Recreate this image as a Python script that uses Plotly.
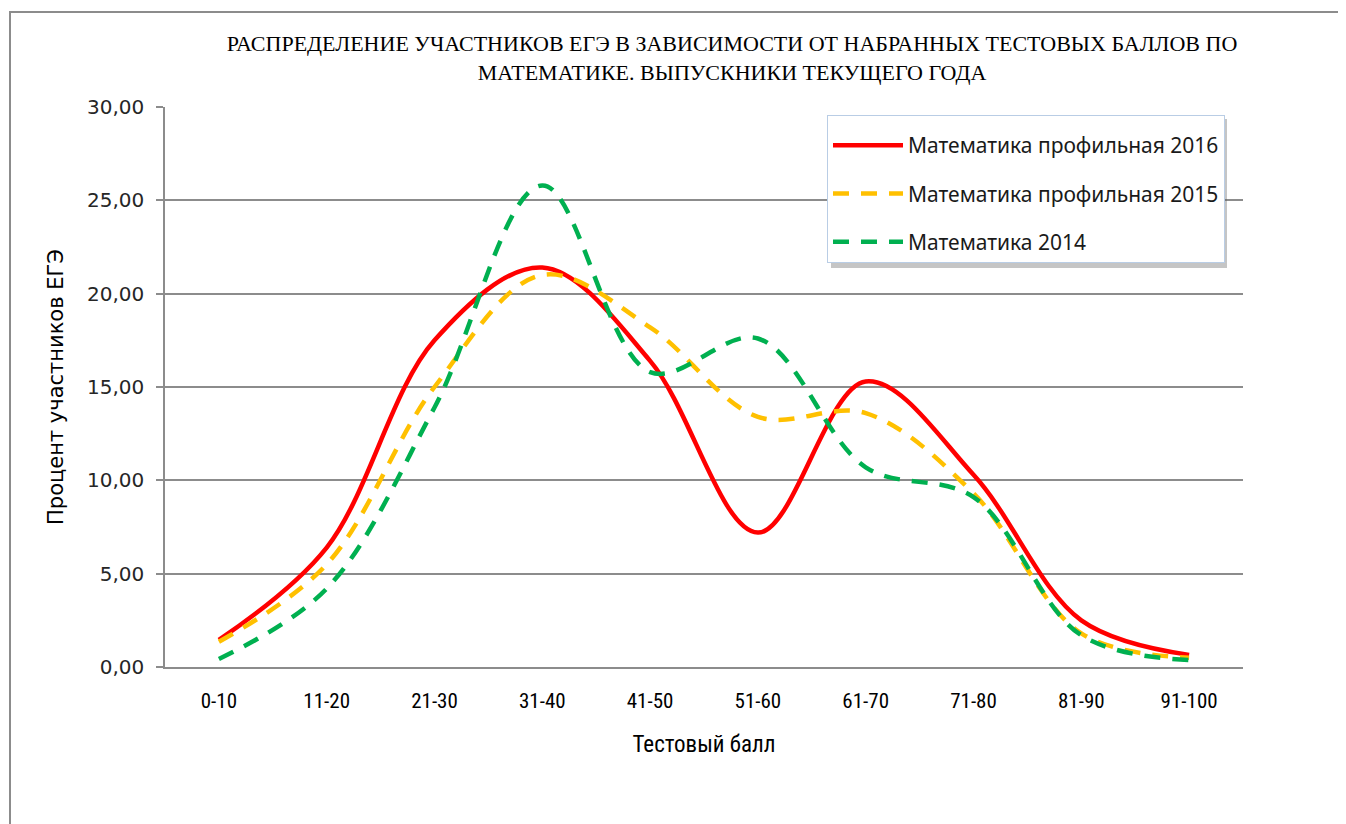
import plotly.graph_objects as go

categories = ["0-10", "11-20", "21-30", "31-40", "41-50", "51-60", "61-70", "71-80", "81-90", "91-100"]
math_prof_2016 = [1.45, 6.4, 17.5, 21.4, 16.4, 7.2, 15.3, 10.3, 2.5, 0.65]
math_prof_2015 = [1.35, 5.5, 15.0, 21.0, 18.2, 13.4, 13.6, 9.3, 1.8, 0.5]
math_2014 = [0.43, 4.2, 13.9, 25.8, 15.8, 17.6, 10.7, 9.1, 1.7, 0.37]
series_names = ["Математика профильная 2016", "Математика профильная 2015", "Математика 2014"]
y_tick_vals = [0, 5, 10, 15, 20, 25, 30]
y_tick_text = ["0,00", "5,00", "10,00", "15,00", "20,00", "25,00", "30,00"]

OFF = 8  # page body margin
W, H = 1346 - OFF, 824 - OFF
L, T = 165 - OFF, 107 - OFF
pw, ph = 1078, 560
R, B = W - L - pw, H - T - ph


def px_to_paper_x(px):
    return (px - OFF - L) / pw


def px_to_paper_y(py):
    return (H - B - (py - OFF)) / ph


fig = go.Figure()
fig.add_trace(go.Scatter(x=categories, y=math_prof_2016, name=series_names[0], mode="lines",
                         line=dict(color="#FF0000", width=4.5, shape="spline", smoothing=1.0),
                         legendgroup="a"))
fig.add_trace(go.Scatter(x=categories, y=math_prof_2015, name=series_names[1], mode="lines",
                         line=dict(color="#FFC000", width=4.5, shape="spline", smoothing=1.0, dash="16px,12px"),
                         legendgroup="b"))
fig.add_trace(go.Scatter(x=categories, y=math_2014, name=series_names[2], mode="lines",
                         line=dict(color="#00B050", width=4.5, shape="spline", smoothing=1.0, dash="16px,12px"),
                         legendgroup="c"))

# legend shadow
lx0, ly0, lx1, ly1 = 827, 115, 1223, 264
fig.add_shape(type="rect", xref="paper", yref="paper",
              x0=px_to_paper_x(lx0 + 4), x1=px_to_paper_x(lx1 + 4),
              y0=px_to_paper_y(ly1 + 4), y1=px_to_paper_y(ly0 + 4),
              fillcolor="rgba(90,90,90,0.35)", line=dict(width=0), layer="above")
# outer frame
fig.add_shape(type="path", xref="paper", yref="paper",
              path=f"M {px_to_paper_x(10)},{px_to_paper_y(840)} L {px_to_paper_x(10)},{px_to_paper_y(12)} L {px_to_paper_x(1360)},{px_to_paper_y(12)}",
              line=dict(color="#8c8c8c", width=2))

narrow = "Liberation Sans Narrow, Roboto Condensed, Liberation Sans"

fig.update_layout(
    width=W, height=H,
    margin=dict(l=L, r=R, t=T, b=B),
    paper_bgcolor="white", plot_bgcolor="white",
    title=dict(text="РАСПРЕДЕЛЕНИЕ УЧАСТНИКОВ ЕГЭ В ЗАВИСИМОСТИ ОТ НАБРАННЫХ ТЕСТОВЫХ БАЛЛОВ ПО<br>МАТЕМАТИКЕ. ВЫПУСКНИКИ ТЕКУЩЕГО ГОДА",
               x=(732 - OFF) / W, xanchor="center", xref="container",
               y=1 - 43 / H, yanchor="top", yref="container",
               font=dict(family="Liberation Serif", size=22, color="black")),
    showlegend=True,
    legend=dict(x=px_to_paper_x(lx0), y=px_to_paper_y(ly0), xanchor="left", yanchor="top",
                bgcolor="white", bordercolor="#b9cde5", borderwidth=1,
                font=dict(family="Noto Sans", size=21, color="#1a1a1a"),
                title=dict(text=" ", font=dict(size=7)),
                tracegroupgap=18, traceorder="grouped", itemwidth=70),
    xaxis=dict(showgrid=False, showline=True, linecolor="#8c8c8c", linewidth=2,
               ticks="", ticklabelstandoff=14,
               tickfont=dict(family=narrow, size=21, color="black"),
               title=dict(text="Тестовый балл", standoff=24,
                          font=dict(family=narrow, size=23, color="black")),
               range=[-0.5, 9.5]),
    yaxis=dict(range=[0, 30], tickvals=y_tick_vals, ticktext=y_tick_text,
               showgrid=True, gridcolor="#8c8c8c", gridwidth=1.5,
               showline=True, linecolor="#8c8c8c", linewidth=1.5,
               ticks="outside", ticklen=7, tickcolor="#8c8c8c", tickwidth=1.5,
               ticklabelstandoff=8,
               tickfont=dict(family="DejaVu Sans", size=20, color="#262626"),
               zeroline=False,
               title=dict(text="Процент участников ЕГЭ", standoff=18,
                          font=dict(family="DejaVu Sans", size=21, color="black"))),
)

fig.write_html("out.html")
